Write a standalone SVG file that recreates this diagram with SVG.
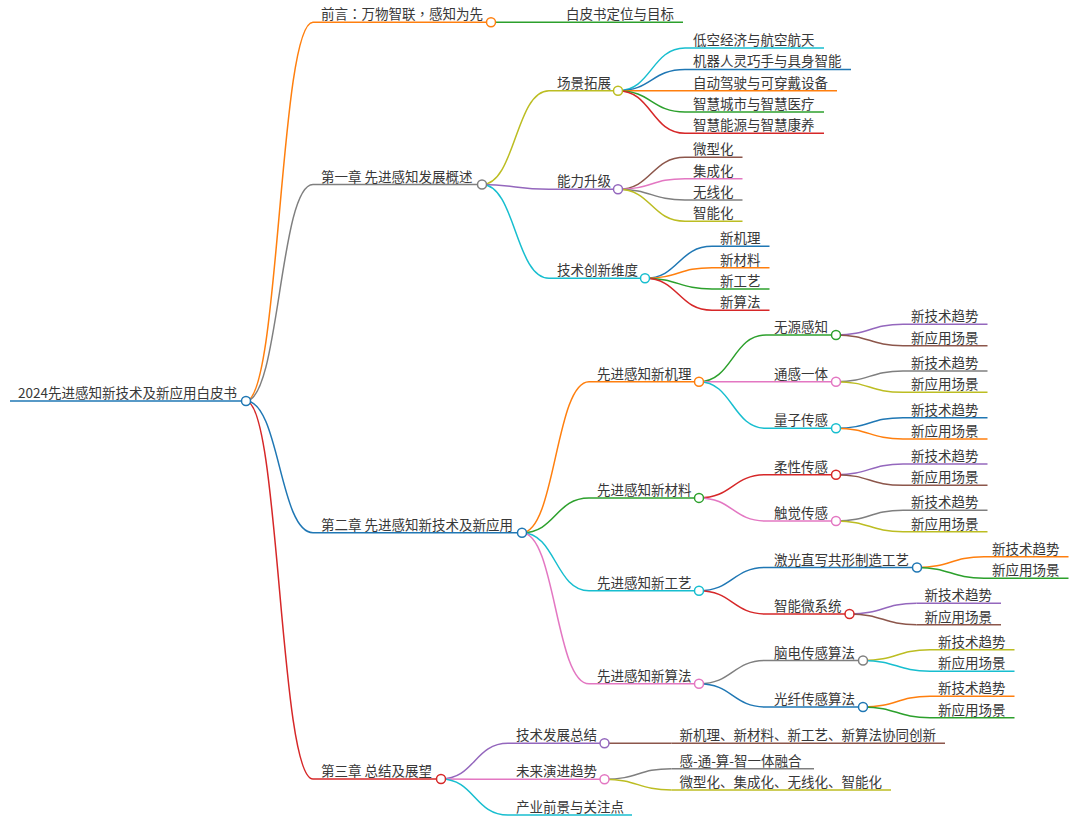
<svg xmlns="http://www.w3.org/2000/svg" width="1078" height="825" viewBox="0 0 1078 825">
<style>
path{fill:none;stroke-width:1.5}
circle{fill:#fff;stroke-width:1.5}
text{font-family:"Noto Sans CJK SC","Noto Sans",sans-serif;font-size:13.5px;fill:#383838}
.p{font-family:"Noto Sans CJK TC","Noto Sans CJK SC",sans-serif}
.blue{stroke:#1f77b4}.orange{stroke:#ff7f0e}.green{stroke:#2ca02c}.red{stroke:#d62728}.purple{stroke:#9467bd}
.brown{stroke:#8c564b}.pink{stroke:#e377c2}.gray{stroke:#7f7f7f}.olive{stroke:#bcbd22}.cyan{stroke:#17becf}
</style>
<rect width="1078" height="825" fill="#fff"/>
<g id="connectors">
<path class="orange" d="M246,401 C279.5,401 279.5,22.3 313,22.3"/>
<path class="gray" d="M246,401 C279.5,401 279.5,184.5 313,184.5"/>
<path class="blue" d="M246,401 C279.5,401 279.5,532.7 313,532.7"/>
<path class="red" d="M246,401 C279.5,401 279.5,779 313,779"/>
<path class="green" d="M491,22.3 L558,22.3"/>
<path class="olive" d="M482,184.5 C515.5,184.5 515.5,90.7 549,90.7"/>
<path class="purple" d="M482,184.5 C515.5,184.5 515.5,189.3 549,189.3"/>
<path class="cyan" d="M482,184.5 C515.5,184.5 515.5,278.3 549,278.3"/>
<path class="cyan" d="M618,90.7 C651.5,90.7 651.5,48.1 685,48.1"/>
<path class="blue" d="M618,90.7 C651.5,90.7 651.5,69.4 685,69.4"/>
<path class="orange" d="M618,90.7 C651.5,90.7 651.5,90.7 685,90.7"/>
<path class="green" d="M618,90.7 C651.5,90.7 651.5,112 685,112"/>
<path class="red" d="M618,90.7 C651.5,90.7 651.5,133.3 685,133.3"/>
<path class="brown" d="M618,189.3 C651.5,189.3 651.5,157.35 685,157.35"/>
<path class="pink" d="M618,189.3 C651.5,189.3 651.5,178.65 685,178.65"/>
<path class="gray" d="M618,189.3 C651.5,189.3 651.5,199.95 685,199.95"/>
<path class="olive" d="M618,189.3 C651.5,189.3 651.5,221.25 685,221.25"/>
<path class="blue" d="M645,278.3 C678.5,278.3 678.5,246.35 712,246.35"/>
<path class="orange" d="M645,278.3 C678.5,278.3 678.5,267.65 712,267.65"/>
<path class="green" d="M645,278.3 C678.5,278.3 678.5,288.95 712,288.95"/>
<path class="red" d="M645,278.3 C678.5,278.3 678.5,310.25 712,310.25"/>
<path class="orange" d="M522,532.7 C555.5,532.7 555.5,381.7 589,381.7"/>
<path class="green" d="M522,532.7 C555.5,532.7 555.5,497.9 589,497.9"/>
<path class="cyan" d="M522,532.7 C555.5,532.7 555.5,590.8 589,590.8"/>
<path class="pink" d="M522,532.7 C555.5,532.7 555.5,683.8 589,683.8"/>
<path class="green" d="M699,381.7 C732.5,381.7 732.5,335 766,335"/>
<path class="pink" d="M699,381.7 C732.5,381.7 732.5,381.7 766,381.7"/>
<path class="cyan" d="M699,381.7 C732.5,381.7 732.5,428.3 766,428.3"/>
<path class="red" d="M699,497.9 C732.5,497.9 732.5,474.7 766,474.7"/>
<path class="pink" d="M699,497.9 C732.5,497.9 732.5,521 766,521"/>
<path class="blue" d="M699,590.8 C732.5,590.8 732.5,567.5 766,567.5"/>
<path class="red" d="M699,590.8 C732.5,590.8 732.5,614 766,614"/>
<path class="gray" d="M699,683.8 C732.5,683.8 732.5,660.5 766,660.5"/>
<path class="blue" d="M699,683.8 C732.5,683.8 732.5,707 766,707"/>
<path class="purple" d="M836,335 C869.5,335 869.5,324.35 903,324.35"/>
<path class="brown" d="M836,335 C869.5,335 869.5,345.65 903,345.65"/>
<path class="gray" d="M836,381.7 C869.5,381.7 869.5,371.05 903,371.05"/>
<path class="olive" d="M836,381.7 C869.5,381.7 869.5,392.35 903,392.35"/>
<path class="blue" d="M836,428.3 C869.5,428.3 869.5,417.65 903,417.65"/>
<path class="orange" d="M836,428.3 C869.5,428.3 869.5,438.95 903,438.95"/>
<path class="purple" d="M836,474.7 C869.5,474.7 869.5,464.05 903,464.05"/>
<path class="brown" d="M836,474.7 C869.5,474.7 869.5,485.35 903,485.35"/>
<path class="gray" d="M836,521 C869.5,521 869.5,510.35 903,510.35"/>
<path class="olive" d="M836,521 C869.5,521 869.5,531.65 903,531.65"/>
<path class="orange" d="M917,567.5 C950.5,567.5 950.5,556.85 984,556.85"/>
<path class="green" d="M917,567.5 C950.5,567.5 950.5,578.15 984,578.15"/>
<path class="purple" d="M849.5,614 C883,614 883,603.35 916.5,603.35"/>
<path class="brown" d="M849.5,614 C883,614 883,624.65 916.5,624.65"/>
<path class="olive" d="M863,660.5 C896.5,660.5 896.5,649.85 930,649.85"/>
<path class="cyan" d="M863,660.5 C896.5,660.5 896.5,671.15 930,671.15"/>
<path class="orange" d="M863,707 C896.5,707 896.5,696.35 930,696.35"/>
<path class="green" d="M863,707 C896.5,707 896.5,717.65 930,717.65"/>
<path class="purple" d="M441,779 C474.5,779 474.5,743.3 508,743.3"/>
<path class="pink" d="M441,779 C474.5,779 474.5,779.3 508,779.3"/>
<path class="cyan" d="M441,779 C474.5,779 474.5,815 508,815"/>
<path class="brown" d="M604.5,743.3 L671.5,743.3"/>
<path class="gray" d="M604.5,779.3 C638,779.3 638,768.65 671.5,768.65"/>
<path class="olive" d="M604.5,779.3 C638,779.3 638,789.95 671.5,789.95"/>
</g>
<g id="root"><path class="blue" d="M10,401 H246"/><circle class="blue" cx="246" cy="401" r="4.5"/><text x="18" y="398">2024先进感知新技术及新应用白皮书</text></g>
<g id="n1"><path class="orange" d="M313,22.3 H491"/><circle class="orange" cx="491" cy="22.3" r="4.5"/><text x="321" y="19.3">前言<tspan class="p">：</tspan>万物智联<tspan class="p">，</tspan>感知为先</text></g>
<g id="n1-1"><path class="green" d="M558,22.3 H683"/><text x="566" y="19.3">白皮书定位与目标</text></g>
<g id="n2"><path class="gray" d="M313,184.5 H482"/><circle class="gray" cx="482" cy="184.5" r="4.5"/><text x="321" y="181.5">第一章 先进感知发展概述</text></g>
<g id="n2-1"><path class="olive" d="M549,90.7 H618"/><circle class="olive" cx="618" cy="90.7" r="4.5"/><text x="557" y="87.7">场景拓展</text></g>
<g id="n2-1-1"><path class="cyan" d="M685,48.1 H824"/><text x="693" y="45.1">低空经济与航空航天</text></g>
<g id="n2-1-2"><path class="blue" d="M685,69.4 H851"/><text x="693" y="66.4">机器人灵巧手与具身智能</text></g>
<g id="n2-1-3"><path class="orange" d="M685,90.7 H837"/><text x="693" y="87.7">自动驾驶与可穿戴设备</text></g>
<g id="n2-1-4"><path class="green" d="M685,112 H824"/><text x="693" y="109">智慧城市与智慧医疗</text></g>
<g id="n2-1-5"><path class="red" d="M685,133.3 H824"/><text x="693" y="130.3">智慧能源与智慧康养</text></g>
<g id="n2-2"><path class="purple" d="M549,189.3 H618"/><circle class="purple" cx="618" cy="189.3" r="4.5"/><text x="557" y="186.3">能力升级</text></g>
<g id="n2-2-1"><path class="brown" d="M685,157.35 H742.5"/><text x="693" y="154.35">微型化</text></g>
<g id="n2-2-2"><path class="pink" d="M685,178.65 H742.5"/><text x="693" y="175.65">集成化</text></g>
<g id="n2-2-3"><path class="gray" d="M685,199.95 H742.5"/><text x="693" y="196.95">无线化</text></g>
<g id="n2-2-4"><path class="olive" d="M685,221.25 H742.5"/><text x="693" y="218.25">智能化</text></g>
<g id="n2-3"><path class="cyan" d="M549,278.3 H645"/><circle class="cyan" cx="645" cy="278.3" r="4.5"/><text x="557" y="275.3">技术创新维度</text></g>
<g id="n2-3-1"><path class="blue" d="M712,246.35 H769.5"/><text x="720" y="243.35">新机理</text></g>
<g id="n2-3-2"><path class="orange" d="M712,267.65 H769.5"/><text x="720" y="264.65">新材料</text></g>
<g id="n2-3-3"><path class="green" d="M712,288.95 H769.5"/><text x="720" y="285.95">新工艺</text></g>
<g id="n2-3-4"><path class="red" d="M712,310.25 H769.5"/><text x="720" y="307.25">新算法</text></g>
<g id="n3"><path class="blue" d="M313,532.7 H522"/><circle class="blue" cx="522" cy="532.7" r="4.5"/><text x="321" y="529.7">第二章 先进感知新技术及新应用</text></g>
<g id="n3-1"><path class="orange" d="M589,381.7 H699"/><circle class="orange" cx="699" cy="381.7" r="4.5"/><text x="597" y="378.7">先进感知新机理</text></g>
<g id="n3-1-1"><path class="green" d="M766,335 H836"/><circle class="green" cx="836" cy="335" r="4.5"/><text x="774" y="332">无源感知</text></g>
<g id="n3-1-1-1"><path class="purple" d="M903,324.35 H987.5"/><text x="911" y="321.35">新技术趋势</text></g>
<g id="n3-1-1-2"><path class="brown" d="M903,345.65 H987.5"/><text x="911" y="342.65">新应用场景</text></g>
<g id="n3-1-2"><path class="pink" d="M766,381.7 H836"/><circle class="pink" cx="836" cy="381.7" r="4.5"/><text x="774" y="378.7">通感一体</text></g>
<g id="n3-1-2-1"><path class="gray" d="M903,371.05 H987.5"/><text x="911" y="368.05">新技术趋势</text></g>
<g id="n3-1-2-2"><path class="olive" d="M903,392.35 H987.5"/><text x="911" y="389.35">新应用场景</text></g>
<g id="n3-1-3"><path class="cyan" d="M766,428.3 H836"/><circle class="cyan" cx="836" cy="428.3" r="4.5"/><text x="774" y="425.3">量子传感</text></g>
<g id="n3-1-3-1"><path class="blue" d="M903,417.65 H987.5"/><text x="911" y="414.65">新技术趋势</text></g>
<g id="n3-1-3-2"><path class="orange" d="M903,438.95 H987.5"/><text x="911" y="435.95">新应用场景</text></g>
<g id="n3-2"><path class="green" d="M589,497.9 H699"/><circle class="green" cx="699" cy="497.9" r="4.5"/><text x="597" y="494.9">先进感知新材料</text></g>
<g id="n3-2-1"><path class="red" d="M766,474.7 H836"/><circle class="red" cx="836" cy="474.7" r="4.5"/><text x="774" y="471.7">柔性传感</text></g>
<g id="n3-2-1-1"><path class="purple" d="M903,464.05 H987.5"/><text x="911" y="461.05">新技术趋势</text></g>
<g id="n3-2-1-2"><path class="brown" d="M903,485.35 H987.5"/><text x="911" y="482.35">新应用场景</text></g>
<g id="n3-2-2"><path class="pink" d="M766,521 H836"/><circle class="pink" cx="836" cy="521" r="4.5"/><text x="774" y="518">触觉传感</text></g>
<g id="n3-2-2-1"><path class="gray" d="M903,510.35 H987.5"/><text x="911" y="507.35">新技术趋势</text></g>
<g id="n3-2-2-2"><path class="olive" d="M903,531.65 H987.5"/><text x="911" y="528.65">新应用场景</text></g>
<g id="n3-3"><path class="cyan" d="M589,590.8 H699"/><circle class="cyan" cx="699" cy="590.8" r="4.5"/><text x="597" y="587.8">先进感知新工艺</text></g>
<g id="n3-3-1"><path class="blue" d="M766,567.5 H917"/><circle class="blue" cx="917" cy="567.5" r="4.5"/><text x="774" y="564.5">激光直写共形制造工艺</text></g>
<g id="n3-3-1-1"><path class="orange" d="M984,556.85 H1068.5"/><text x="992" y="553.85">新技术趋势</text></g>
<g id="n3-3-1-2"><path class="green" d="M984,578.15 H1068.5"/><text x="992" y="575.15">新应用场景</text></g>
<g id="n3-3-2"><path class="red" d="M766,614 H849.5"/><circle class="red" cx="849.5" cy="614" r="4.5"/><text x="774" y="611">智能微系统</text></g>
<g id="n3-3-2-1"><path class="purple" d="M916.5,603.35 H1001"/><text x="924.5" y="600.35">新技术趋势</text></g>
<g id="n3-3-2-2"><path class="brown" d="M916.5,624.65 H1001"/><text x="924.5" y="621.65">新应用场景</text></g>
<g id="n3-4"><path class="pink" d="M589,683.8 H699"/><circle class="pink" cx="699" cy="683.8" r="4.5"/><text x="597" y="680.8">先进感知新算法</text></g>
<g id="n3-4-1"><path class="gray" d="M766,660.5 H863"/><circle class="gray" cx="863" cy="660.5" r="4.5"/><text x="774" y="657.5">脑电传感算法</text></g>
<g id="n3-4-1-1"><path class="olive" d="M930,649.85 H1014.5"/><text x="938" y="646.85">新技术趋势</text></g>
<g id="n3-4-1-2"><path class="cyan" d="M930,671.15 H1014.5"/><text x="938" y="668.15">新应用场景</text></g>
<g id="n3-4-2"><path class="blue" d="M766,707 H863"/><circle class="blue" cx="863" cy="707" r="4.5"/><text x="774" y="704">光纤传感算法</text></g>
<g id="n3-4-2-1"><path class="orange" d="M930,696.35 H1014.5"/><text x="938" y="693.35">新技术趋势</text></g>
<g id="n3-4-2-2"><path class="green" d="M930,717.65 H1014.5"/><text x="938" y="714.65">新应用场景</text></g>
<g id="n4"><path class="red" d="M313,779 H441"/><circle class="red" cx="441" cy="779" r="4.5"/><text x="321" y="776">第三章 总结及展望</text></g>
<g id="n4-1"><path class="purple" d="M508,743.3 H604.5"/><circle class="purple" cx="604.5" cy="743.3" r="4.5"/><text x="516" y="740.3">技术发展总结</text></g>
<g id="n4-1-1"><path class="brown" d="M671.5,743.3 H945"/><text x="679.5" y="740.3">新机理、新材料、新工艺、新算法协同创新</text></g>
<g id="n4-2"><path class="pink" d="M508,779.3 H604.5"/><circle class="pink" cx="604.5" cy="779.3" r="4.5"/><text x="516" y="776.3">未来演进趋势</text></g>
<g id="n4-2-1"><path class="gray" d="M671.5,768.65 H814"/><text x="679.5" y="765.65">感-通-算-智一体融合</text></g>
<g id="n4-2-2"><path class="olive" d="M671.5,789.95 H891"/><text x="679.5" y="786.95">微型化、集成化、无线化、智能化</text></g>
<g id="n4-3"><path class="cyan" d="M508,815 H632"/><text x="516" y="812">产业前景与关注点</text></g>
</svg>
